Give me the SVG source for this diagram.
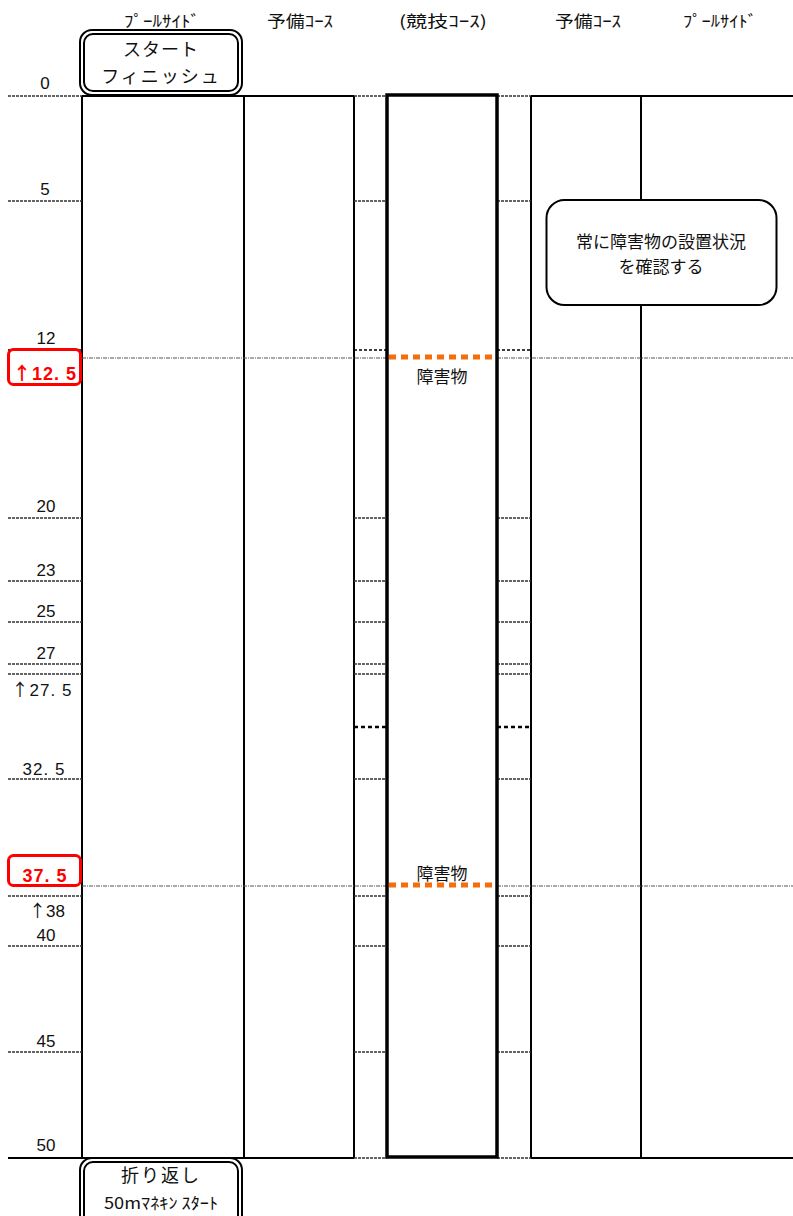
<svg xmlns="http://www.w3.org/2000/svg" width="793" height="1216" viewBox="0 0 793 1216">
<style>
text{font-family:"Noto Sans CJK JP","Liberation Sans",sans-serif;fill:#111}
.hd{font-size:16px;text-anchor:middle}
.num{font-size:17px;text-anchor:middle;font-family:"Liberation Sans","Noto Sans CJK JP",sans-serif}
.ar{font-family:"Noto Sans CJK JP",sans-serif}
.red{font-size:18px;font-weight:bold;fill:#f00;text-anchor:middle;font-family:"Liberation Sans","Noto Sans CJK JP",sans-serif}
.lane{stroke:#000;stroke-width:2;fill:none}
.wav{stroke:#333;stroke-width:1.3;stroke-dasharray:3 1;fill:none}
.blk{stroke:#000;stroke-width:1.5;stroke-dasharray:3 2;fill:none}
.thk{stroke:#000;stroke-width:2.5;stroke-dasharray:4 3;fill:none}
.full{stroke:#555;stroke-width:1.2;stroke-dasharray:4 1 1 1;fill:none}
.obs{stroke:#f26f0b;stroke-width:5;stroke-dasharray:7 5;fill:none}
.box{fill:#fff;stroke:#000;stroke-width:2}
.rbox{fill:#fff;stroke:#f00;stroke-width:3}
.bt{font-size:18px;text-anchor:middle}
</style>

<g id="headers">
<text class="hd" x="162" y="27" textLength="76" lengthAdjust="spacingAndGlyphs">ﾌﾟｰﾙｻｲﾄﾞ</text>
<text class="hd" x="300" y="27" textLength="66" lengthAdjust="spacingAndGlyphs">予備ｺｰｽ</text>
<text class="hd" x="443" y="27" textLength="88" lengthAdjust="spacingAndGlyphs">(競技ｺｰｽ)</text>
<text class="hd" x="588" y="27" textLength="66" lengthAdjust="spacingAndGlyphs">予備ｺｰｽ</text>
<text class="hd" x="720" y="27" textLength="74" lengthAdjust="spacingAndGlyphs">ﾌﾟｰﾙｻｲﾄﾞ</text>
</g>

<g id="connectors">
<line class="lane" x1="82" y1="96" x2="82" y2="1158"/>
<line class="lane" x1="244" y1="96" x2="244" y2="1158"/>
<line class="lane" x1="354" y1="96" x2="354" y2="1158"/>
<line class="lane" x1="531" y1="96" x2="531" y2="1158"/>
<line class="lane" x1="641" y1="96" x2="641" y2="1158"/>
<line class="lane" x1="82" y1="96" x2="354" y2="96"/>
<line class="lane" x1="531" y1="96" x2="793" y2="96"/>
<line class="lane" x1="8" y1="1158" x2="354" y2="1158"/>
<line class="lane" x1="531" y1="1158" x2="793" y2="1158"/>
<path class="wav" d="M8 96H82M8 201H82M8 518H82M8 581H82M8 622H82M8 664H82M8 674H82M8 779H82M8 896H82M8 946H82M8 1052H82"/>
<path class="blk" d="M8 350H82"/>
<path class="wav" d="M354 96H387M497 96H531M354 201H387M497 201H531M354 518H387M497 518H531M354 581H387M497 581H531M354 622H387M497 622H531M354 664H387M497 664H531M354 674H387M497 674H531M354 779H387M497 779H531M354 896H387M497 896H531M354 946H387M497 946H531M354 1052H387M497 1052H531M354 1158H387M497 1158H531"/>
<path class="blk" d="M354 350H387M497 350H531"/>
<path class="thk" d="M354 727H387M497 727H531"/>
<path class="full" d="M82 358H387M497 358H793M82 886H387M497 886H793"/>
</g>

<g id="race-course">
<rect x="387" y="95" width="110" height="1062" fill="none" stroke="#000" stroke-width="3.5"/>
</g>

<g id="obstacle-1">
<line class="obs" x1="389" y1="357" x2="497" y2="357"/>
<text x="442" y="383" font-size="17" text-anchor="middle">障害物</text>
</g>
<g id="obstacle-2">
<line class="obs" x1="389" y1="885" x2="497" y2="885"/>
<text x="442" y="880" font-size="17" text-anchor="middle">障害物</text>
</g>

<g id="labels">
<text class="num" x="45" y="89">0</text>
<text class="num" x="45" y="195">5</text>
<text class="num" x="46" y="344">12</text>
<text class="num" x="46" y="512">20</text>
<text class="num" x="46" y="576">23</text>
<text class="num" x="46" y="617">25</text>
<text class="num" x="46" y="659">27</text>
<text class="num" x="42" y="696" letter-spacing="1"><tspan class="ar">↑</tspan>27. 5</text>
<text class="num" x="44" y="775" letter-spacing="1">32. 5</text>
<text class="num" x="47" y="917"><tspan class="ar">↑</tspan>38</text>
<text class="num" x="46" y="941">40</text>
<text class="num" x="46" y="1047">45</text>
<text class="num" x="46" y="1151">50</text>
</g>

<g id="mark-12-5">
<rect class="rbox" x="8.5" y="349.5" width="72" height="35" rx="5"/>
<text class="red" x="45" y="380" letter-spacing="1"><tspan class="ar">↑</tspan>12. 5</text>
</g>
<g id="mark-37-5">
<rect class="rbox" x="8.5" y="855.5" width="72" height="30" rx="5"/>
<text class="red" x="45" y="882" letter-spacing="1">37. 5</text>
</g>

<g id="start-box">
<rect x="80" y="30" width="162" height="65" rx="12" fill="#fff" stroke="#000" stroke-width="2"/>
<rect x="84" y="34" width="154" height="57" rx="9" fill="none" stroke="#000" stroke-width="2"/>
<text class="bt" x="161" y="56" letter-spacing="1">スタート</text>
<text class="bt" x="161" y="83" letter-spacing="2">フィニッシュ</text>
</g>

<g id="turn-box">
<rect x="80" y="1158" width="162" height="70" rx="12" fill="#fff" stroke="#000" stroke-width="2"/>
<rect x="84" y="1162" width="154" height="62" rx="9" fill="none" stroke="#000" stroke-width="2"/>
<text class="bt" x="161" y="1182" letter-spacing="2">折り返し</text>
<text x="161" y="1209" font-size="16" text-anchor="middle" textLength="114" lengthAdjust="spacingAndGlyphs">50mﾏﾈｷﾝ ｽﾀｰﾄ</text>
</g>

<g id="note">
<rect class="box" x="546.5" y="200" width="230" height="105" rx="18"/>
<text x="661" y="248" font-size="17" text-anchor="middle">常に障害物の設置状況</text>
<text x="661" y="273" font-size="17" text-anchor="middle">を確認する</text>
</g>
</svg>
